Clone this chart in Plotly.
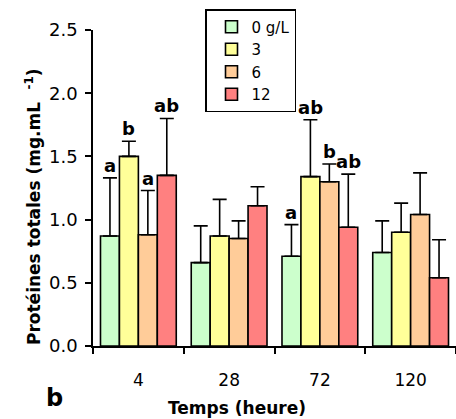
import plotly.graph_objects as go

categories = ["4", "28", "72", "120"]
series_names = ["0 g/L", "3", "6", "12"]
colors = ["#CCFFCC", "#FFFF99", "#FFCC99", "#FF8080"]
means = [
    [0.87, 0.66, 0.71, 0.74],   # 0 g/L
    [1.50, 0.87, 1.34, 0.90],   # 3
    [0.88, 0.85, 1.30, 1.04],   # 6
    [1.35, 1.11, 0.94, 0.54],   # 12
]
errors = [
    [0.46, 0.29, 0.25, 0.25],
    [0.12, 0.29, 0.45, 0.23],
    [0.35, 0.14, 0.14, 0.33],
    [0.45, 0.15, 0.42, 0.30],
]
letters = [
    ["a", "", "a", ""],
    ["b", "", "ab", ""],
    ["a", "", "b", ""],
    ["ab", "", "ab", ""],
]

FONT = "DejaVu Sans, Liberation Sans, Arial, sans-serif"
bargap = 0.165
nser = len(series_names)

fig = go.Figure()
for i, name in enumerate(series_names):
    fig.add_trace(go.Bar(
        x=categories, y=means[i], name=name,
        marker=dict(color=colors[i], line=dict(color="black", width=1.6)),
        error_y=dict(type="data", array=errors[i], arrayminus=[0] * len(categories),
                     symmetric=False, color="black", thickness=1.6, width=7),
    ))

bw = (1 - bargap) / nser
for i in range(nser):
    for j, cat in enumerate(categories):
        if letters[i][j]:
            fig.add_annotation(
                x=j + (i - (nser - 1) / 2) * bw, y=means[i][j] + errors[i][j],
                xref="x", yref="y", text="<b>%s</b>" % letters[i][j],
                showarrow=False, yanchor="bottom", yshift=0,
                font=dict(family=FONT, size=18, color="black"))

fig.add_annotation(x=-0.201, y=(346 - 207) / 316, xref="paper", yref="paper",
                   text="<b>Protéines totales (mg.mL<sup>   -1</sup>)</b>",
                   textangle=-90, showarrow=False,
                   font=dict(family=FONT, size=17, color="black"))
fig.add_annotation(x=(237 - 93) / 363, y=-(408 - 346) / 316, xref="paper", yref="paper",
                   text="<b>Temps (heure)</b>", showarrow=False, yshift=-12,
                   font=dict(family=FONT, size=17, color="black"))
fig.add_annotation(x=(44 - 93) / 363, y=-(397 - 346) / 316, xref="paper", yref="paper",
                   text="<b>b</b>", showarrow=False, yshift=-17,
                   font=dict(family=FONT, size=24, color="black"))

fig.update_layout(
    width=456, height=419,
    margin=dict(l=93, r=0, t=30, b=73),
    paper_bgcolor="white", plot_bgcolor="white",
    barmode="group", bargap=bargap, bargroupgap=0,
    font=dict(family=FONT, size=16, color="black"),
    showlegend=True,
    legend=dict(x=(205 - 93) / 363, y=(346 - 9) / 316, xanchor="left", yanchor="top",
                bordercolor="black", borderwidth=1.5, bgcolor="white",
                font=dict(family=FONT, size=15, color="black"),
                tracegroupgap=0, indentation=5, entrywidth=55),
    xaxis=dict(type="category", showline=True, linecolor="black", linewidth=1.5,
               ticks="outside", tickson="boundaries", ticklen=6, tickcolor="black",
               tickwidth=1.5, showgrid=False, tickfont=dict(size=17),
               ticklabelstandoff=18),
    yaxis=dict(range=[0, 2.5], tickvals=[0, 0.5, 1.0, 1.5, 2.0, 2.5], tickformat=".1f",
               showline=True, linecolor="black", linewidth=1.5, ticks="outside",
               ticklen=6, tickcolor="black", tickwidth=1.5, showgrid=False,
               zeroline=False, tickfont=dict(size=18), ticklabelstandoff=4),
)

fig.write_html("out.html")
